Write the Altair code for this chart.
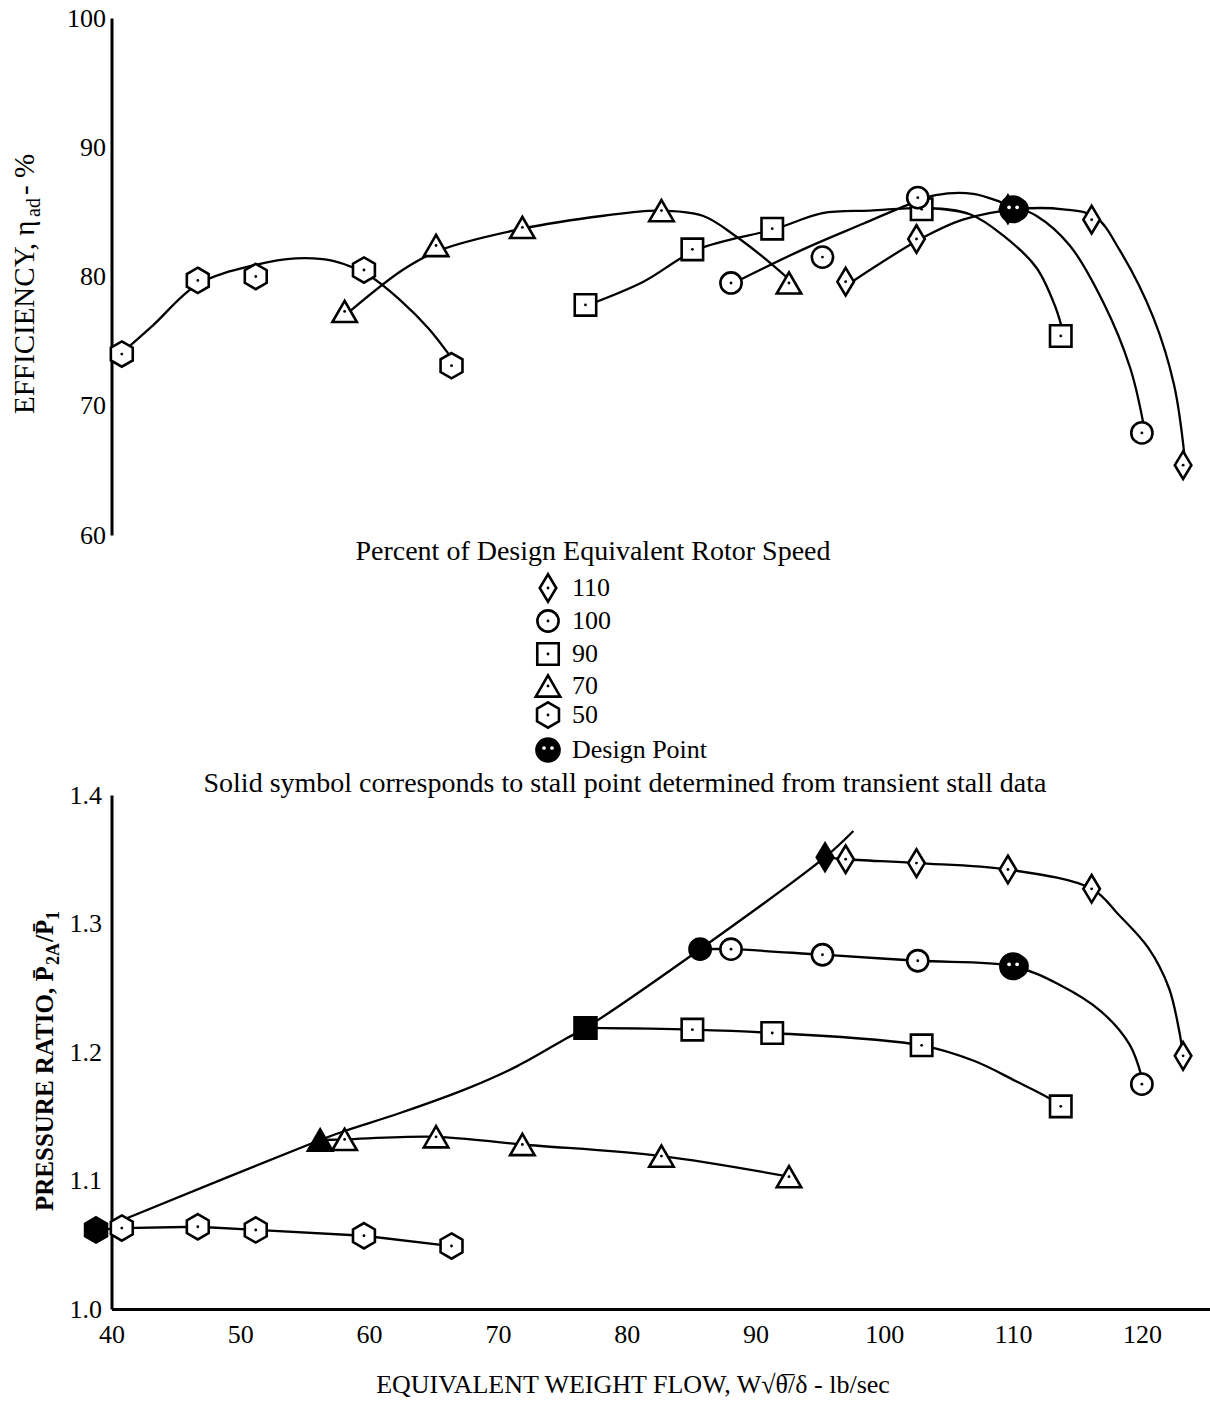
import altair as alt
import pandas as pd

FONT = "Liberation Serif"

# ---------------- values ----------------
speeds = ["110", "100", "90", "70", "50"]

# operating points: equivalent weight flow, lb/sec
flow_50 = [40.8, 46.7, 51.2, 59.6, 66.4]
flow_70 = [58.1, 65.2, 71.9, 82.7, 92.6]
flow_90 = [76.8, 85.1, 91.3, 102.9, 113.7]
flow_100 = [88.1, 95.2, 102.6, 110.3, 120.0]
flow_110 = [97.0, 102.5, 109.6, 116.1, 123.2]

# adiabatic efficiency, %
eff_50 = [74.0, 79.7, 80.0, 80.5, 73.1]
eff_70 = [77.3, 82.4, 83.8, 85.1, 79.5]
eff_90 = [77.8, 82.1, 83.7, 85.2, 75.4]
eff_100 = [79.5, 81.5, 86.1, 85.2, 67.9]
eff_110 = [79.6, 82.9, 85.2, 84.4, 65.4]

# pressure ratio
pr_50 = [1.063, 1.064, 1.0615, 1.057, 1.049]
pr_70 = [1.132, 1.134, 1.128, 1.119, 1.103]
pr_90 = [1.2187, 1.2174, 1.2148, 1.2052, 1.1577]
pr_100 = [1.280, 1.2757, 1.271, 1.2667, 1.175]
pr_110 = [1.350, 1.347, 1.342, 1.327, 1.197]

# stall points (solid symbols, transient stall data)
stall_speed = ["50", "70", "90", "100", "110"]
stall_flow = [38.8, 56.2, 76.8, 85.7, 95.4]
stall_pr = [1.0615, 1.1315, 1.2187, 1.280, 1.3516]

# design point
design_flow = [110.0]
design_eff = [85.2]
design_pr = [1.2667]

# faired efficiency curves
c50_flow = [40.7, 43.2, 46.7, 51.2, 54.3, 57.2, 60.1, 62.6, 64.6, 66.4]
c50_eff = [74.0, 76.2, 79.4, 80.9, 81.4, 81.2, 80.0, 78.0, 76.0, 73.7]
c70_flow = [58.5, 62.6, 65.4, 71.9, 78.2, 82.4, 85.9, 88.5, 90.6, 92.7]
c70_eff = [77.3, 80.5, 82.0, 83.7, 84.7, 85.1, 84.7, 83.1, 81.5, 79.7]
c90_flow = [77.0, 81.3, 85.5, 91.6, 95.2, 98.9, 103.4, 106.7, 109.2, 111.8, 113.3, 113.9]
c90_eff = [77.8, 79.6, 82.1, 83.7, 84.9, 85.1, 85.3, 84.8, 83.2, 80.7, 77.6, 75.6]
c100_flow = [88.3, 93.7, 98.4, 102.2, 104.0, 106.9, 109.2, 111.8, 114.4, 117.0, 119.1, 120.1]
c100_eff = [79.5, 82.1, 84.1, 85.7, 86.3, 86.4, 85.7, 84.7, 82.4, 78.0, 72.9, 68.7]
c110_flow = [97.5, 102.8, 106.1, 110.2, 113.9, 116.4, 118.3, 120.9, 122.5, 123.3]
c110_eff = [79.6, 82.9, 84.4, 85.2, 85.2, 84.6, 82.0, 76.8, 71.6, 66.2]

# faired pressure-ratio curves
p50_flow = [38.8, 40.8, 46.7, 51.2, 59.6, 66.4]
p50_pr = [1.0615, 1.063, 1.064, 1.0615, 1.057, 1.049]
p70_flow = [56.2, 58.1, 65.2, 71.9, 82.7, 92.6]
p70_pr = [1.1315, 1.132, 1.134, 1.128, 1.119, 1.103]
p90_flow = [76.8, 85.1, 91.3, 102.9, 107.0, 110.2, 112.8, 113.7]
p90_pr = [1.2187, 1.2174, 1.2148, 1.2052, 1.193, 1.1774, 1.164, 1.1577]
p100_flow = [85.7, 88.1, 95.2, 102.6, 110.0, 113.6, 116.8, 119.05, 120.0]
p100_pr = [1.280, 1.280, 1.2757, 1.271, 1.2667, 1.2524, 1.2319, 1.2057, 1.18]
p110_flow = [95.4, 97.0, 102.5, 109.6, 116.1, 118.2, 120.5, 122.1, 122.9, 123.2]
p110_pr = [1.3516, 1.350, 1.347, 1.342, 1.327, 1.3068, 1.281, 1.2498, 1.2163, 1.197]
stall_line_flow = [40.9, 56.2, 58.1, 62.4, 67.6, 71.5, 75.3, 76.8, 85.7, 95.4, 97.6]
stall_line_pr = [1.0695, 1.1315, 1.1385, 1.1525, 1.1715, 1.189, 1.2105, 1.2187, 1.280, 1.3516, 1.372]

# ---------------- styling ----------------
HEX = "M0,-1L0.866,-0.5L0.866,0.5L0,1L-0.866,0.5L-0.866,-0.5Z"
DIAM = "M0,-1L0.6,0L0,1L-0.6,0Z"
SHAPE = {"110": DIAM, "100": "circle", "90": "square", "70": "triangle-up", "50": HEX}
SIZE = {"110": 760, "100": 450, "90": 460, "70": 600, "50": 640}

XSCALE = alt.Scale(domain=[40, 125.25], nice=False, zero=False)
W = 1098

x_top = alt.X("flow:Q", scale=XSCALE, axis=None)
y_top = alt.Y("val:Q", scale=alt.Scale(domain=[60, 100], nice=False, zero=False),
              axis=alt.Axis(values=[60, 70, 80, 90, 100], title=None, grid=False, ticks=False,
                            domainWidth=3, domainColor="black", labelFont=FONT, labelFontSize=26,
                            labelColor="black", labelPadding=6))
x_bot = alt.X("flow:Q", scale=XSCALE,
              axis=alt.Axis(values=[40, 50, 60, 70, 80, 90, 100, 110, 120], grid=False, ticks=False,
                            domainWidth=3, domainColor="black", labelFont=FONT, labelFontSize=26,
                            labelColor="black", labelPadding=12, labelFlush=False,
                            title="EQUIVALENT WEIGHT FLOW, W\u221a\u03b8\u0305/\u03b4 - lb/sec",
                            titleFont=FONT, titleFontSize=26, titleFontWeight="normal",
                            titleColor="black", titlePadding=24, titleX=521))
y_bot = alt.Y("val:Q", scale=alt.Scale(domain=[1.0, 1.4], nice=False, zero=False),
              axis=alt.Axis(values=[1.0, 1.1, 1.2, 1.3, 1.4], format=".1f", title=None, grid=False,
                            ticks=False, domainWidth=3, domainColor="black", labelFont=FONT,
                            labelFontSize=26, labelColor="black", labelPadding=10))


def frame(flows, vals, speed=""):
    return pd.DataFrame({"flow": flows, "val": vals, "speed": speed})


def curve(df, x, y, interp="catmull-rom"):
    return alt.Chart(df).mark_line(interpolate=interp, color="black", strokeWidth=2.3).encode(x=x, y=y)


def markers(df, speed, x, y, solid=False):
    return alt.Chart(df).mark_point(shape=SHAPE[speed], size=SIZE[speed], filled=True,
                                    fill="black" if solid else "white", stroke="black",
                                    strokeWidth=2.6, opacity=1).encode(x=x, y=y)


def dots(df, x, y):
    return alt.Chart(df).mark_circle(size=8, color="black", opacity=1).encode(x=x, y=y)


def design(df, x, y):
    body = alt.Chart(df).mark_point(shape="circle", size=680, filled=True, fill="black",
                                    stroke="black", opacity=1).encode(x=x, y=y)
    e1 = alt.Chart(df).mark_circle(size=14, color="white", opacity=1, xOffset=-4, yOffset=-2).encode(x=x, y=y)
    e2 = alt.Chart(df).mark_circle(size=14, color="white", opacity=1, xOffset=4, yOffset=-2).encode(x=x, y=y)
    return [body, e1, e2]


one = alt.Data(values=[{}])


def label(text, x, y, size=26, align="left", weight="normal", baseline="middle"):
    return alt.Chart(one).mark_text(text=text, font=FONT, fontSize=size, align=align, baseline=baseline,
                                    fontWeight=weight, color="black").encode(
        x=alt.value(x), y=alt.value(y))


def rot_title(parts, x, y, weight="normal"):
    out = []
    pos = 0.0
    for text, size, width, dy in parts:
        out.append(alt.Chart(one).mark_text(text=text, font=FONT, fontSize=size, align="left",
                                            baseline="alphabetic", fontWeight=weight, color="black",
                                            angle=270, dx=pos, dy=dy).encode(x=alt.value(x), y=alt.value(y)))
        pos += width
    return out


# ---------------- top panel: efficiency ----------------
top_curves = [(c50_flow, c50_eff), (c70_flow, c70_eff), (c90_flow, c90_eff),
              (c100_flow, c100_eff), (c110_flow, c110_eff)]
top_pts = {"50": (flow_50, eff_50), "70": (flow_70, eff_70), "90": (flow_90, eff_90),
           "100": (flow_100, eff_100), "110": (flow_110, eff_110)}

top_layers = [curve(frame(f, v), x_top, y_top) for f, v in top_curves]
for s in ["50", "70", "90", "110", "100"]:
    df = frame(*top_pts[s], s)
    top_layers.append(markers(df, s, x_top, y_top))
    top_layers.append(dots(df, x_top, y_top))
top_layers += design(frame(design_flow, design_eff), x_top, y_top)

# y title (with subscript)
top_layers += rot_title([("EFFICIENCY, \u03b7", 29, 197, 0), ("ad", 20, 22, 6), (" - %", 29, 50, 0)],
                        -78, 396)

# legend (between panels)
LX, LT = 436.5, 460.5
top_layers.append(label("Percent of Design Equivalent Rotor Speed", 481.5, 534, size=28, align="center"))
leg_rows = [570, 603, 636, 668, 697]
for s, ry in zip(speeds, leg_rows):
    top_layers.append(alt.Chart(one).mark_point(shape=SHAPE[s], size=SIZE[s], filled=True, fill="white",
                                                stroke="black", strokeWidth=2.6, opacity=1).encode(
        x=alt.value(LX), y=alt.value(ry)))
    top_layers.append(alt.Chart(one).mark_circle(size=8, color="black", opacity=1).encode(
        x=alt.value(LX), y=alt.value(ry)))
    top_layers.append(label(s, LT, ry))
top_layers.append(alt.Chart(one).mark_point(shape="circle", size=560, filled=True, fill="black",
                                            stroke="black", opacity=1).encode(x=alt.value(LX), y=alt.value(732)))
for ox in (-4, 4):
    top_layers.append(alt.Chart(one).mark_circle(size=14, color="white", opacity=1).encode(
        x=alt.value(LX + ox), y=alt.value(730)))
top_layers.append(label("Design Point", LT, 732))
top_layers.append(label("Solid symbol corresponds to stall point determined from transient stall data",
                        513.5, 766, size=28, align="center"))

top = alt.layer(*top_layers).properties(width=W, height=517)

# ---------------- bottom panel: pressure ratio ----------------
bot_layers = [
    curve(frame(p50_flow, p50_pr), x_bot, y_bot, "linear"),
    curve(frame(p70_flow, p70_pr), x_bot, y_bot),
    curve(frame(p90_flow, p90_pr), x_bot, y_bot),
    curve(frame(p100_flow, p100_pr), x_bot, y_bot),
    curve(frame(p110_flow, p110_pr), x_bot, y_bot),
    curve(frame(stall_line_flow, stall_line_pr), x_bot, y_bot),
]
bot_pts = {"50": (flow_50, pr_50), "70": (flow_70, pr_70), "90": (flow_90, pr_90),
           "100": (flow_100, pr_100), "110": (flow_110, pr_110)}
for s in ["50", "70", "90", "110", "100"]:
    df = frame(*bot_pts[s], s)
    bot_layers.append(markers(df, s, x_bot, y_bot))
    bot_layers.append(dots(df, x_bot, y_bot))
for s, f, p in zip(stall_speed, stall_flow, stall_pr):
    bot_layers.append(markers(frame([f], [p], s), s, x_bot, y_bot, solid=True))
bot_layers += design(frame(design_flow, design_pr), x_bot, y_bot)

bot_layers += rot_title([("PRESSURE RATIO, P\u0304", 25, 246, 0), ("2A", 18, 23, 6),
                         ("/P\u0304", 25, 22, 0), ("1", 18, 10, 6)], -59, 416, weight="bold")

bottom = alt.layer(*bot_layers).properties(width=W, height=514)

chart = alt.vconcat(top, bottom, spacing=260, bounds="flush").properties(
    padding={"left": 9.5, "top": 5, "right": 0, "bottom": 5},
    background="white",
).configure_view(stroke="transparent", strokeWidth=0)

chart.save("out.html", embed_options={"renderer": "svg", "actions": False})
